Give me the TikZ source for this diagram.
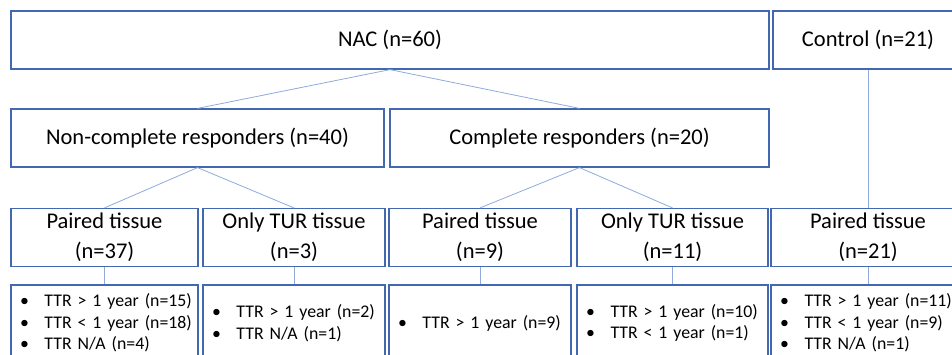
\documentclass[tikz,border=0pt]{standalone}
\usepackage{fontspec}
\setmainfont{Carlito}
\definecolor{boxblue}{RGB}{68,104,176}
\definecolor{lineblue}{RGB}{143,170,220}
\tikzset{
  bx/.style={draw=boxblue, line width=1.2pt, inner sep=0pt, minimum height=58pt,
    align=center, font=\fontsize{22.5}{30}\selectfont},
  lst/.style={draw=boxblue, line width=1.2pt, inner xsep=9pt, inner ysep=0pt,
    minimum height=76pt, align=left, font=\fontsize{17.8}{21.5}\selectfont},
  ln/.style={draw=lineblue, line width=0.8pt}
}
\newcommand{\itm}[1]{\mbox{\makebox[24.5pt][l]{\textbullet}#1}}

\begin{document}
\begin{tikzpicture}[x=1pt, y=-1pt]
  \useasboundingbox (0,0) rectangle (952,354);
  \clip (0,0) rectangle (952,354);
  \node[bx, minimum width=758pt] (nac) at (390,40) {NAC (n=60)};
  \node[bx, minimum width=190pt] (control) at (868,40) {Control (n=21)};
  \node[bx, minimum width=373pt] (noncr) at (197.5,138) {Non-complete responders (n=40)};
  \node[bx, minimum width=379pt] (cr) at (579.5,138) {Complete responders (n=20)};

  \node[bx, minimum width=187pt] (pair37) at (104.5,237.5) {Paired tissue\\(n=37)};
  \node[bx, minimum width=182pt] (tur3) at (294,237.5) {Only TUR tissue\\(n=3)};
  \node[bx, minimum width=182pt] (pair9) at (480,237.5) {Paired tissue\\(n=9)};
  \node[bx, minimum width=191pt] (tur11) at (672.5,237.5) {Only TUR tissue\\(n=11)};
  \node[bx, minimum width=194pt] (pair21) at (868,237.5) {Paired tissue\\(n=21)};

  \node[lst, text width=169pt] (ttr37) at (104.5,323)
    {\itm{TTR > 1 year (n=15)}\\\itm{TTR < 1 year (n=18)}\\\itm{TTR N/A (n=4)}};
  \node[lst, text width=164pt] (ttr3) at (294,323)
    {\itm{TTR > 1 year (n=2)}\\\itm{TTR N/A (n=1)}};
  \node[lst, text width=164pt] (ttr9) at (480,323)
    {\itm{TTR > 1 year (n=9)}};
  \node[lst, text width=173pt] (ttr11) at (672.5,323)
    {\itm{TTR > 1 year (n=10)}\\\itm{TTR < 1 year (n=1)}};
  \node[lst, text width=176pt] (ttr21) at (868,323)
    {\itm{TTR > 1 year (n=11)}\\\itm{TTR < 1 year (n=9)}\\\itm{TTR N/A (n=1)}};

  \draw[ln] (nac.south) -- (noncr.north);
  \draw[ln] (nac.south) -- (cr.north);
  \draw[ln] (control.south) -- (pair21.north);
  \draw[ln] (noncr.south) -- (pair37.north);
  \draw[ln] (noncr.south) -- (tur3.north);
  \draw[ln] (cr.south) -- (pair9.north);
  \draw[ln] (cr.south) -- (tur11.north);
  \draw[ln] (pair37.south) -- (ttr37.north);
  \draw[ln] (tur3.south) -- (ttr3.north);
  \draw[ln] (pair9.south) -- (ttr9.north);
  \draw[ln] (tur11.south) -- (ttr11.north);
  \draw[ln] (pair21.south) -- (ttr21.north);
\end{tikzpicture}
\end{document}
